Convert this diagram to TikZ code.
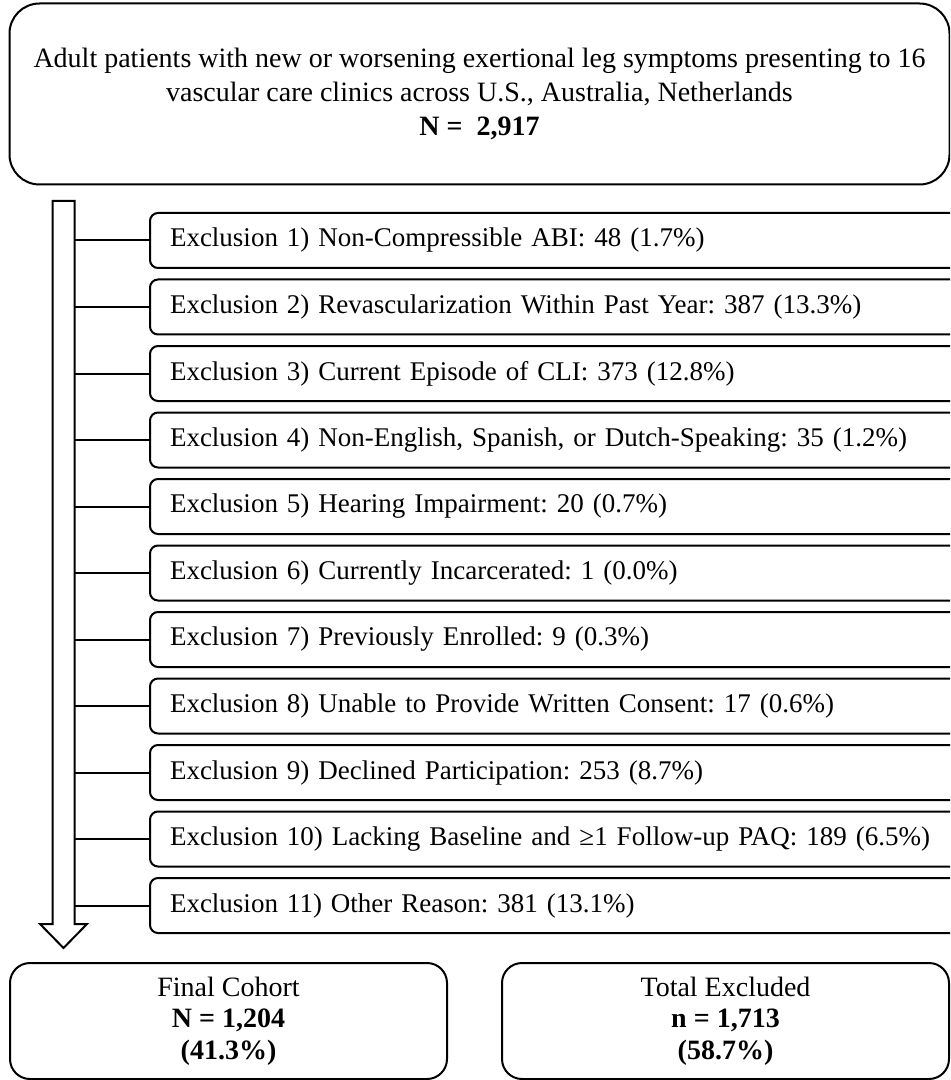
\documentclass[tikz,border=0pt]{standalone}
\usepackage{fontspec}
\setmainfont{Liberation Serif}
\usetikzlibrary{positioning}
\frenchspacing

\begin{document}
\begin{tikzpicture}[
        x = 0.5pt, y = -0.5pt,
        node distance = 33.25pt,
        on grid,
        line width = 1pt,
        every node/.style = {font = \fontsize{14}{17}\selectfont},
        popbox/.style = {draw, rounded corners = 15pt, align = center,
                         minimum width = 470pt, minimum height = 90.5pt},
        exbox/.style  = {draw, rounded corners = 4pt, align = left, text width = 410pt,
                         inner xsep = 10pt, minimum height = 27.5pt,
                         font = \fontsize{13.5}{16}\selectfont},
        endbox/.style = {draw, rounded corners = 10pt, align = center, minimum height = 58pt,
                         font = \fontsize{14}{15.8}\selectfont}
    ]

    \useasboundingbox (0,0) rectangle (950,1080);
    \clip (0,0) rectangle (950,1080);

    \node[popbox] (pop) at (479.5,94)
        {Adult patients with new or worsening exertional leg symptoms presenting to 16\\
         vascular care clinics across U.S., Australia, Netherlands\\
         \textbf{N =~~2,917}};

    % exclusion steps
    \node[exbox] (ex1)  at (580,240.5)     {Exclusion 1) Non-Compressible ABI: 48 (1.7\%)};
    \node[exbox] (ex2)  [below = of ex1]   {Exclusion 2) Revascularization Within Past Year: 387 (13.3\%)};
    \node[exbox] (ex3)  [below = of ex2]   {Exclusion 3) Current Episode of CLI: 373 (12.8\%)};
    \node[exbox] (ex4)  [below = of ex3]   {Exclusion 4) Non-English, Spanish, or Dutch-Speaking: 35 (1.2\%)};
    \node[exbox] (ex5)  [below = of ex4]   {Exclusion 5) Hearing Impairment: 20 (0.7\%)};
    \node[exbox] (ex6)  [below = of ex5]   {Exclusion 6) Currently Incarcerated: 1 (0.0\%)};
    \node[exbox] (ex7)  [below = of ex6]   {Exclusion 7) Previously Enrolled: 9 (0.3\%)};
    \node[exbox] (ex8)  [below = of ex7]   {Exclusion 8) Unable to Provide Written Consent: 17 (0.6\%)};
    \node[exbox] (ex9)  [below = of ex8]   {Exclusion 9) Declined Participation: 253 (8.7\%)};
    \node[exbox] (ex10) [below = of ex9]   {Exclusion 10) Lacking Baseline and ≥1 Follow-up PAQ: 189 (6.5\%)};
    \node[exbox] (ex11) [below = of ex10]  {Exclusion 11) Other Reason: 381 (13.1\%)};

    % outcome boxes
    \node[endbox, minimum width = 218.5pt] (final) at (228.5,1021)
        {Final Cohort\\ \textbf{N = 1,204}\\ \textbf{(41.3\%)}};
    \node[endbox, minimum width = 223.5pt] (excluded) [right = 248.5pt of final]
        {Total Excluded\\ \textbf{n = 1,713}\\ \textbf{(58.7\%)}};

    % block arrow
    \draw (52.5,201) -- (74.5,201) -- (74.5,924) -- (87,924) -- (63.5,948)
        -- (40,924) -- (52.5,924) -- cycle;
    \coordinate (shaft) at (74.5,201);

    \draw
        (ex1.west)  -- (ex1.west -| shaft)
        (ex2.west)  -- (ex2.west -| shaft)
        (ex3.west)  -- (ex3.west -| shaft)
        (ex4.west)  -- (ex4.west -| shaft)
        (ex5.west)  -- (ex5.west -| shaft)
        (ex6.west)  -- (ex6.west -| shaft)
        (ex7.west)  -- (ex7.west -| shaft)
        (ex8.west)  -- (ex8.west -| shaft)
        (ex9.west)  -- (ex9.west -| shaft)
        (ex10.west) -- (ex10.west -| shaft)
        (ex11.west) -- (ex11.west -| shaft);

\end{tikzpicture}
\end{document}
